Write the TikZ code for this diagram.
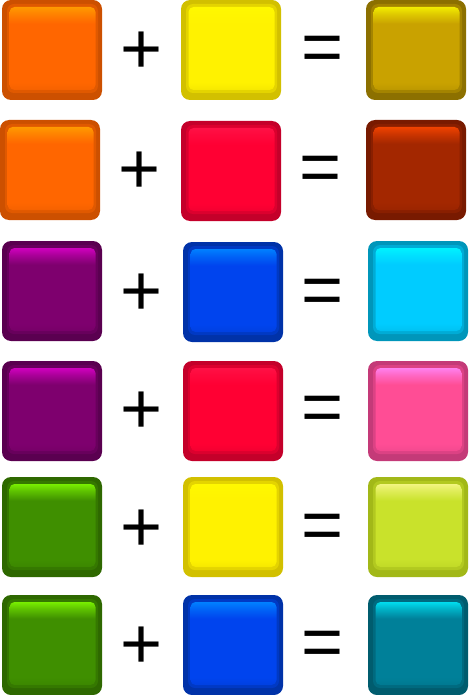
\documentclass[tikz,border=0pt]{standalone}
\usepackage{fontspec}
\setmainfont{Liberation Sans}
\definecolor{orD}{HTML}{CC5000}\definecolor{orM}{HTML}{FF6600}\definecolor{orT}{HTML}{FF9A00}
\definecolor{yeD}{HTML}{D2C000}\definecolor{yeM}{HTML}{FFF200}\definecolor{yeT}{HTML}{FFF800}
\definecolor{goD}{HTML}{8C7000}\definecolor{goM}{HTML}{C9A200}\definecolor{goT}{HTML}{F2EC00}
\definecolor{reD}{HTML}{C4002A}\definecolor{reM}{HTML}{FF0033}\definecolor{reT}{HTML}{FF1045}
\definecolor{brD}{HTML}{781A00}\definecolor{brM}{HTML}{A32700}\definecolor{brT}{HTML}{F04200}
\definecolor{puD}{HTML}{5A0050}\definecolor{puM}{HTML}{7E006E}\definecolor{puT}{HTML}{D000BE}
\definecolor{blD}{HTML}{0032A8}\definecolor{blM}{HTML}{0044EE}\definecolor{blT}{HTML}{0080FF}
\definecolor{cyD}{HTML}{0096BA}\definecolor{cyM}{HTML}{00CCFF}\definecolor{cyT}{HTML}{00F2FF}
\definecolor{piD}{HTML}{C43A78}\definecolor{piM}{HTML}{FF4D95}\definecolor{piT}{HTML}{FF80EE}
\definecolor{grD}{HTML}{2E6800}\definecolor{grM}{HTML}{3F8F00}\definecolor{grT}{HTML}{78EE00}
\definecolor{ygD}{HTML}{A2B818}\definecolor{ygM}{HTML}{C9E22B}\definecolor{ygT}{HTML}{F2F580}
\definecolor{teD}{HTML}{005C6E}\definecolor{teM}{HTML}{008099}\definecolor{teT}{HTML}{00DCEE}
\colorlet{gtop}{orT}\colorlet{gmain}{orM}\colorlet{gdark}{orD}
\pgfdeclareverticalshading[gtop,gmain,gdark]{gloss}{100bp}{color(0bp)=(gmain!80!gdark); color(25bp)=(gmain!80!gdark); color(29.5bp)=(gmain); color(65bp)=(gmain); color(71bp)=(gtop!55!gmain); color(75bp)=(gtop); color(100bp)=(gtop)}
\tikzset{
  sqouter/.style={rounded corners=9pt, minimum width=100pt, minimum height=100pt, inner sep=0pt, outer sep=0pt},
  sqmid/.style={rounded corners=7pt, minimum width=91pt, minimum height=89pt, inner sep=0pt},
  sqin/.style={rounded corners=5pt, minimum width=86pt, minimum height=83pt, inner sep=0pt, shade, shading=gloss},
  sign/.style={font=\fontsize{72}{72}\selectfont, inner sep=0pt, anchor=center}
}
\newcommand\glossbox[6]{%
  \colorlet{gtop}{#6}\colorlet{gmain}{#5}\colorlet{gdark}{#4}%
  \node[sqouter, fill=#4] (#1) at (#2+50,#3+50) {};
  \node[sqmid, fill=#4!60!#5] (#1m) at ([xshift=0.5pt,yshift=1.5pt]#1.center) {};
  \node[sqin] (#1i) at ([xshift=0.5pt,yshift=1.5pt]#1.center) {};
}
\begin{document}
\begin{tikzpicture}[x=1pt,y=-1pt]
\useasboundingbox (0,0) rectangle (468,695);
% row 1
\glossbox{a1}{2}{0}{orD}{orM}{orT}
\glossbox{b1}{181}{0}{yeD}{yeM}{yeT}
\glossbox{c1}{366}{0}{goD}{goM}{goT}
\node[sign] (p1) at (142,53) {+};
\node[sign] (e1) at (323,54) {=};
% row 2
\glossbox{a2}{0}{120}{orD}{orM}{orT}
\glossbox{b2}{181}{121}{reD}{reM}{reT}
\glossbox{c2}{366}{120}{brD}{brM}{brT}
\node[sign] (p2) at (140,173) {+};
\node[sign] (e2) at (321,174) {=};
% row 3
\glossbox{a3}{2}{241}{puD}{puM}{puT}
\glossbox{b3}{183}{242}{blD}{blM}{blT}
\glossbox{c3}{368}{241}{cyD}{cyM}{cyT}
\node[sign] (p3) at (142,295) {+};
\node[sign] (e3) at (323,297) {=};
% row 4
\glossbox{a4}{2}{361}{puD}{puM}{puT}
\glossbox{b4}{183}{361}{reD}{reM}{reT}
\glossbox{c4}{368}{361}{piD}{piM}{piT}
\node[sign] (p4) at (142,413) {+};
\node[sign] (e4) at (323,414) {=};
% row 5
\glossbox{a5}{2}{477}{grD}{grM}{grT}
\glossbox{b5}{183}{477}{yeD}{yeM}{yeT}
\glossbox{c5}{368}{477}{ygD}{ygM}{ygT}
\node[sign] (p5) at (142,531) {+};
\node[sign] (e5) at (323,532) {=};
% row 6
\glossbox{a6}{2}{595}{grD}{grM}{grT}
\glossbox{b6}{183}{595}{blD}{blM}{blT}
\glossbox{c6}{368}{595}{teD}{teM}{teT}
\node[sign] (p6) at (142,648) {+};
\node[sign] (e6) at (323,649) {=};
\end{tikzpicture}
\end{document}
